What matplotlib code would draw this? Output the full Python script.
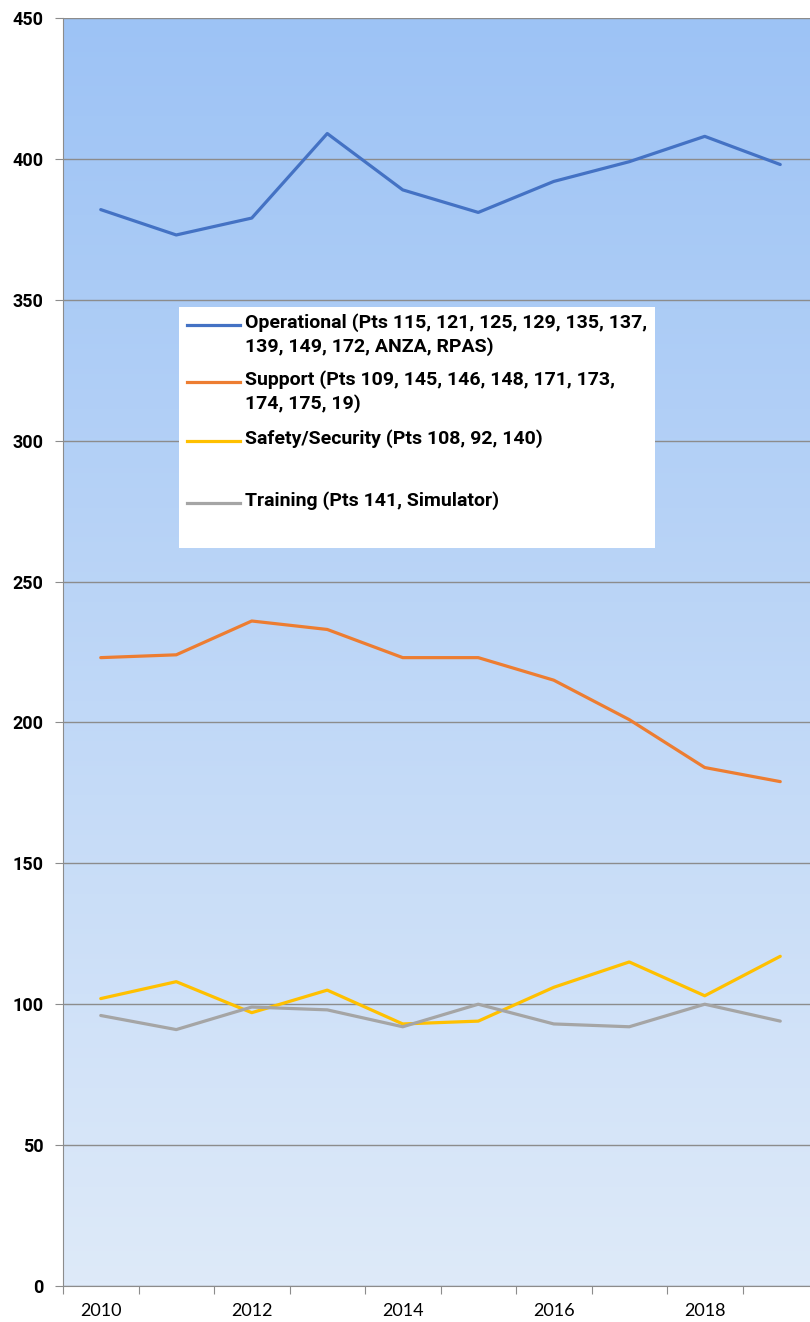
import matplotlib
matplotlib.use("Agg")
from matplotlib import pyplot as plt
from matplotlib.lines import Line2D
from matplotlib.patches import Rectangle
import numpy as np

plt.rcParams['font.family'] = ['Lato', 'DejaVu Sans']
bold_font = ['Roboto', 'DejaVu Sans']

years = list(range(2010, 2020))
operational = [382, 373, 379, 409, 389, 381, 392, 399, 408, 398]
support = [223, 224, 236, 233, 223, 223, 215, 201, 184, 179]
safety = [102, 108, 97, 105, 93, 94, 106, 115, 103, 117]
training = [96, 91, 99, 98, 92, 100, 93, 92, 100, 94]
y_ticks = list(range(0, 451, 50))

labels = ["Operational (Pts 115, 121, 125, 129, 135, 137,\n139, 149, 172, ANZA, RPAS)",
          "Support (Pts 109, 145, 146, 148, 171, 173,\n174, 175, 19)",
          "Safety/Security (Pts 108, 92, 140)\n ",
          "Training (Pts 141, Simulator)"]
colors = ["#4472C4", "#ED7D31", "#FFC000", "#A5A5A5"]
series = [operational, support, safety, training]

W, H = 810, 1322
fig = plt.figure(figsize=(W / 100, H / 100), dpi=100)
# plot area runs a bit past the right edge of the picture
ax = fig.add_axes([63 / W, (H - 1286) / H, 755 / W, 1268 / H])

# gradient background
top = np.array([157, 195, 245]) / 255
bot = np.array([222, 234, 249]) / 255
t = np.linspace(0, 1, 256)[:, None]
grad = (bot * (1 - t) + top * t)[:, None, :]
ax.imshow(grad, extent=[-0.5, 9.5, 0, 450], origin="lower", aspect="auto", zorder=0)

x = np.arange(len(years))
for s, c in zip(series, colors):
    ax.plot(x, s, color=c, linewidth=2.3, zorder=3, solid_capstyle="round")

ax.set_xlim(-0.5, 9.5)
ax.set_ylim(0, 450)
ax.set_yticks(y_ticks)
ax.set_yticklabels([str(v) for v in y_ticks], fontweight="bold", fontsize=13,
                   family=bold_font)
ax.yaxis.grid(True, color="#8C8C8C", linewidth=1)
ax.set_axisbelow(False)
for ln in ax.get_ygridlines():
    ln.set_zorder(1)
ax.set_xticks(np.arange(-0.5, 9.6, 1))
ax.set_xticklabels([])
ax.set_xticks(x[::2], [str(y) for y in years[::2]], minor=True)
ax.tick_params(axis="x", which="major", length=6, color="#8C8C8C")
ax.tick_params(axis="x", which="minor", length=0, pad=12, labelsize=13)
ax.tick_params(axis="y", length=6, color="#8C8C8C", pad=8)
for sp in ["top", "right"]:
    ax.spines[sp].set_visible(False)
ax.spines["left"].set_color("#8C8C8C")
ax.spines["bottom"].set_color("#8C8C8C")

# legend box
fig.patches.append(Rectangle((179 / W, (H - 548) / H), 476 / W, 241 / H,
                             transform=fig.transFigure, facecolor="white",
                             edgecolor="none", zorder=5))
rows = [325, 382, 441, 503]
for lab, c, yp in zip(labels, colors, rows):
    yf = (H - yp) / H
    fig.add_artist(Line2D([187 / W, 240 / W], [yf, yf], transform=fig.transFigure,
                          color=c, linewidth=2.3, zorder=6))
    fig.text(245 / W, (H - yp + 12) / H, lab, fontsize=14, fontweight="bold",
             family=bold_font, va="top", ha="left", linespacing=1.35, zorder=6)

fig.savefig("out.png", dpi=100)
